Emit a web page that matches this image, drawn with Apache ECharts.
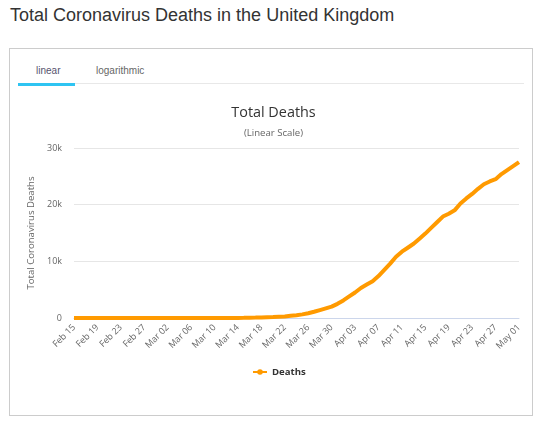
<!DOCTYPE html>
<html>
<head>
<meta charset="utf-8">
<script src="https://cdn.jsdelivr.net/npm/echarts@6/dist/echarts.min.js"></script>
<style>
    body { margin: 0; background: #fff; }
    .page-title {
        position: absolute; left: 10px; top: 6px;
        font: 18px/18px "Liberation Sans", Arial, sans-serif; color: #333;
        white-space: nowrap;
    }
    .box {
        position: absolute; left: 9px; top: 48px; width: 524px; height: 368px;
        box-sizing: border-box; border: 1px solid #ccc;
    }
    .tab {
        position: absolute; top: 65px;
        font: 10px/12px "Liberation Sans", Arial, sans-serif;
    }
    .tab-line { position: absolute; left: 18px; top: 83px; width: 506px; height: 1px; background: #e8e8e8; }
    .tab-active { position: absolute; left: 18px; top: 83px; width: 57px; height: 3px; background: #2fc4f2; }
    #chart { position: absolute; left: 0; top: 0; width: 547px; height: 423px; }
</style>
</head>
<body>
<div class="page-title">Total Coronavirus Deaths in the United Kingdom</div>
<div class="box"></div>
<div class="tab-line"></div>
<div class="tab-active"></div>
<div class="tab" style="left:36px;color:#57536e">linear</div>
<div class="tab" style="left:96px;color:#666">logarithmic</div>
<div id="chart"></div>
<script>
// 日期 Feb 15 - May 01
var dates = [
    'Feb 15','Feb 16','Feb 17','Feb 18','Feb 19','Feb 20','Feb 21','Feb 22','Feb 23','Feb 24','Feb 25','Feb 26','Feb 27','Feb 28','Feb 29',
    'Mar 01','Mar 02','Mar 03','Mar 04','Mar 05','Mar 06','Mar 07','Mar 08','Mar 09','Mar 10','Mar 11','Mar 12','Mar 13','Mar 14','Mar 15',
    'Mar 16','Mar 17','Mar 18','Mar 19','Mar 20','Mar 21','Mar 22','Mar 23','Mar 24','Mar 25','Mar 26','Mar 27','Mar 28','Mar 29','Mar 30','Mar 31',
    'Apr 01','Apr 02','Apr 03','Apr 04','Apr 05','Apr 06','Apr 07','Apr 08','Apr 09','Apr 10','Apr 11','Apr 12','Apr 13','Apr 14','Apr 15',
    'Apr 16','Apr 17','Apr 18','Apr 19','Apr 20','Apr 21','Apr 22','Apr 23','Apr 24','Apr 25','Apr 26','Apr 27','Apr 28','Apr 29','Apr 30',
    'May 01'
];
// 累计死亡
var deaths = [
    0,0,0,0,0,0,0,0,0,0,0,0,0,0,0,
    0,0,0,0,1,2,2,3,4,6,8,8,10,21,35,
    55,71,104,144,177,233,281,400,500,640,850,1100,1400,1700,2000,2500,
    3100,3800,4500,5300,5900,6500,7400,8500,9600,10800,11700,12400,13100,14000,14900,
    15900,16900,17900,18400,19000,20200,21100,21900,22800,23600,24100,24500,25400,26100,26800,
    27500
];
var yTicks = ['0', '10k', '20k', '30k'];

var font = '"Open Sans", sans-serif';
var myChart = echarts.init(document.getElementById('chart'));
var option = {
    animation: false,
    textStyle: {fontFamily: font},
    title: [
        {
            text: 'Total Deaths',
            left: 'center',
            top: 101,
            textStyle: {fontFamily: font, fontSize: 14.4, fontWeight: 'normal', color: '#333'}
        },
        {
            text: '(Linear Scale)',
            left: 'center',
            top: 123,
            textStyle: {fontFamily: font, fontSize: 9.6, fontWeight: 'normal', color: '#666'}
        }
    ],
    legend: {
        left: 247,
        top: 362,
        itemWidth: 14,
        itemHeight: 7,
        textStyle: {fontFamily: font, fontSize: 9.6, fontWeight: 'bold', color: '#333'},
        data: ['Deaths']
    },
    grid: {
        left: 74,
        right: 28,
        top: 148,
        height: 170
    },
    xAxis: {
        type: 'category',
        boundaryGap: false,
        data: dates,
        axisLine: {lineStyle: {color: '#ccd6eb'}},
        axisTick: {show: false},
        axisLabel: {
            interval: 3,
            rotate: 45,
            margin: 8,
            fontSize: 9,
            color: '#666',
            fontFamily: font
        }
    },
    yAxis: {
        type: 'value',
        min: 0,
        max: 30000,
        interval: 10000,
        name: 'Total Coronavirus Deaths',
        nameLocation: 'middle',
        nameGap: 27,
        nameTextStyle: {fontFamily: font, fontSize: 9.6, color: '#666'},
        axisLine: {show: false},
        axisTick: {show: false},
        splitLine: {lineStyle: {color: '#e6e6e6'}},
        axisLabel: {
            margin: 12,
            fontSize: 9,
            color: '#666',
            fontFamily: font,
            formatter: function (v) {
                return yTicks[v / 10000];
            }
        }
    },
    series: [
        {
            name: 'Deaths',
            type: 'line',
            data: deaths,
            symbol: 'circle',
            symbolSize: 6,
            showSymbol: false,
            itemStyle: {color: '#ff9a00'},
            lineStyle: {color: '#ff9a00', width: 4}
        }
    ]
};
myChart.setOption(option);
</script>
</body>
</html>
